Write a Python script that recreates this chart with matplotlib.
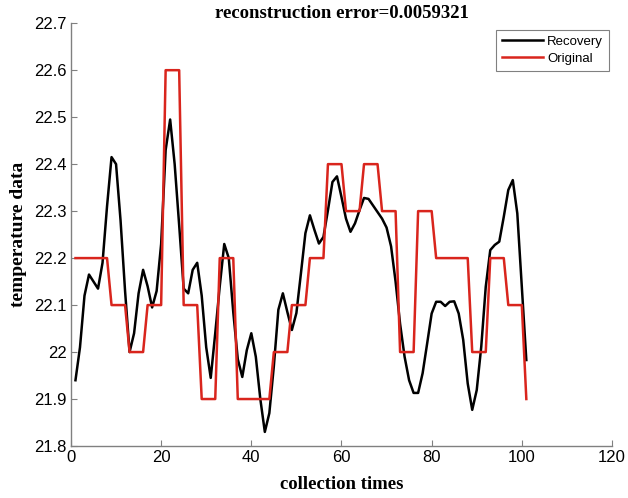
import matplotlib
matplotlib.use('Agg')
import matplotlib.pyplot as plt
from matplotlib.ticker import FuncFormatter

# collection index
times = list(range(1, 102))

# recovered signal (black)
recovery = [21.94, 22.01, 22.12, 22.165, 22.15, 22.135, 22.19, 22.31, 22.415, 22.40,
            22.28, 22.13, 22.00, 22.04, 22.125, 22.175, 22.14, 22.095, 22.13, 22.23,
            22.43, 22.495, 22.40, 22.27, 22.135, 22.125, 22.175, 22.19, 22.12, 22.01,
            21.945, 22.04, 22.14, 22.23, 22.20, 22.085, 21.985, 21.947, 22.004, 22.04,
            21.99, 21.90, 21.83, 21.87, 21.97, 22.09, 22.125, 22.085, 22.047, 22.083,
            22.167, 22.253, 22.291, 22.26, 22.231, 22.245, 22.302, 22.362, 22.374, 22.33,
            22.284, 22.256, 22.274, 22.302, 22.328, 22.326, 22.312, 22.298, 22.284, 22.265,
            22.225, 22.15, 22.06, 21.99, 21.94, 21.913, 21.913, 21.955, 22.018, 22.082,
            22.107, 22.107, 22.098, 22.107, 22.108, 22.082, 22.026, 21.933, 21.877, 21.919,
            22.011, 22.139, 22.217, 22.228, 22.235, 22.288, 22.345, 22.366, 22.295, 22.139,
            21.983]

# original signal (red), held in blocks
original = ([22.2] * 8 + [22.1] * 4 + [22.0] * 4 + [22.1] * 4 + [22.6] * 4 +
            [22.1] * 4 + [21.9] * 4 + [22.2] * 4 + [21.9] * 8 + [22.0] * 4 +
            [22.1] * 4 + [22.2] * 4 + [22.4] * 4 + [22.3] * 4 + [22.4] * 4 +
            [22.3] * 4 + [22.0] * 4 + [22.3] * 4 + [22.2] * 8 + [22.0] * 4 +
            [22.2] * 4 + [22.1] * 4 + [21.9])

x_ticks = [0, 20, 40, 60, 80, 100, 120]
y_ticks = [21.8, 21.9, 22.0, 22.1, 22.2, 22.3, 22.4, 22.5, 22.6, 22.7]

fig = plt.figure(figsize=(6.28, 4.98), dpi=100)
ax = fig.add_axes([0.113, 0.1044, 0.8615, 0.849])

ax.plot(times, recovery, color='black', linewidth=1.8, label='Recovery')
ax.plot(times, original, color='#d9251d', linewidth=1.8, label='Original')

ax.set_xlim(0, 120)
ax.set_ylim(21.8, 22.7)
ax.set_xticks(x_ticks)
ax.set_yticks(y_ticks)
ax.yaxis.set_major_formatter(FuncFormatter(lambda v, p: '%g' % round(v, 1)))

for s in ['top', 'right']:
    ax.spines[s].set_visible(False)
for s in ['left', 'bottom']:
    ax.spines[s].set_color('#808080')
    ax.spines[s].set_linewidth(1.0)

ax.tick_params(direction='in', length=4, color='#808080', labelsize=12, pad=3)
for lab in ax.get_xticklabels() + ax.get_yticklabels():
    lab.set_family('Liberation Sans')

ax.set_title('reconstruction error=0.0059321', fontfamily='Liberation Serif',
             fontweight='bold', fontsize=13.5, pad=4)
ax.set_xlabel('collection times', fontfamily='Liberation Serif',
              fontweight='bold', fontsize=13.5, labelpad=8)
ax.set_ylabel('temperature data', fontfamily='Liberation Serif',
              fontweight='bold', fontsize=14, labelpad=5)

leg = ax.legend(loc='upper right', bbox_to_anchor=(0.994, 0.985),
                borderaxespad=0,
                prop={'family': 'Liberation Sans', 'size': 9.5},
                fancybox=False, framealpha=1, edgecolor='#808080',
                handlelength=3.1, handletextpad=0.3, borderpad=0.45,
                labelspacing=0.35)
leg.get_frame().set_linewidth(0.8)

fig.savefig('out.png', dpi=100)
